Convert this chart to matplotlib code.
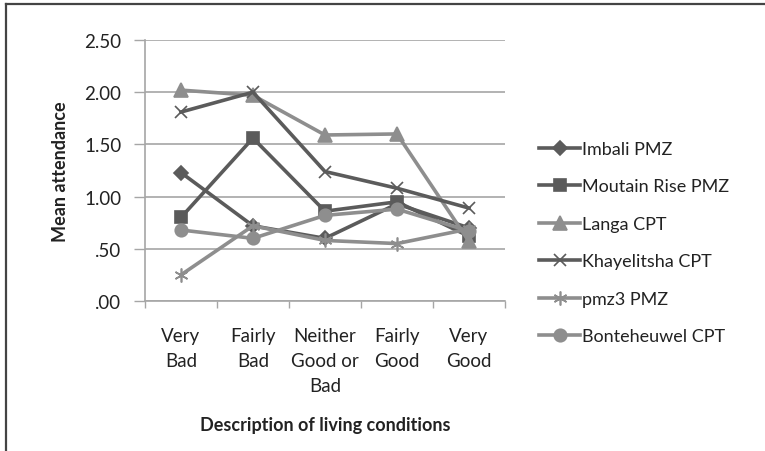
import matplotlib.pyplot as plt
from matplotlib.lines import Line2D

# Mean attendance by description of living conditions
conditions = ['Very\nBad', 'Fairly\nBad', 'Neither\nGood or\nBad', 'Fairly\nGood', 'Very\nGood']
imbali = [1.23, 0.72, 0.60, 0.93, 0.70]
mountain_rise = [0.80, 1.56, 0.86, 0.95, 0.62]
langa = [2.02, 1.97, 1.59, 1.60, 0.57]
khayelitsha = [1.81, 2.00, 1.24, 1.08, 0.89]
pmz3 = [0.25, 0.72, 0.58, 0.55, 0.69]
bonteheuwel = [0.68, 0.60, 0.82, 0.88, 0.67]

dark = '#5b5b5b'
light = '#8e8e8e'

plt.rcParams['font.family'] = ['Lato', 'DejaVu Sans']

fig = plt.figure(figsize=(7.65, 4.52), dpi=100)
ax = fig.add_axes([0.1895, 0.3319, 0.4706, 0.5774])

x = list(range(len(conditions)))
series = [
    ('Imbali PMZ', imbali, dark, 'D', 7),
    ('Moutain Rise PMZ', mountain_rise, dark, 's', 8.5),
    ('Langa CPT', langa, light, '^', 9.5),
    ('Khayelitsha CPT', khayelitsha, dark, 'x', 9),
    ('pmz3 PMZ', pmz3, light, (6, 2, 0), 10),
    ('Bonteheuwel CPT', bonteheuwel, light, 'o', 9),
]
for name, vals, col, mk, ms in series:
    ax.plot(x, vals, color=col, lw=2.6, marker=mk, markersize=ms,
            markeredgewidth=1.2, markeredgecolor=col, markerfacecolor=col,
            label=name, zorder=3)

ax.set_xlim(-0.5, len(conditions) - 0.5)
ax.set_ylim(0, 2.5)
ax.set_yticks([0, 0.5, 1.0, 1.5, 2.0, 2.5])
ax.set_yticklabels(['.00', '.50', '1.00', '1.50', '2.00', '2.50'])
ax.set_xticks(x)
ax.set_xticklabels(conditions, linespacing=1.55)
ax.set_xticks([i - 0.5 for i in range(len(conditions) + 1)], minor=True)
ax.tick_params(axis='x', which='major', length=0, pad=19, labelsize=13.5, colors='#222222')
ax.tick_params(axis='x', which='minor', length=5, width=1, color='#a6a6a6')
ax.tick_params(axis='y', length=8, width=1, color='#a6a6a6', labelsize=13.5,
               labelcolor='#222222', pad=9)

ax.grid(axis='y', color='#a6a6a6', lw=1.2, zorder=0)
ax.set_axisbelow(True)
for side in ['top', 'right']:
    ax.spines[side].set_visible(False)
for side in ['left', 'bottom']:
    ax.spines[side].set_color('#a6a6a6')
    ax.spines[side].set_linewidth(1.2)

ax.set_ylabel('Mean attendance', fontsize=13, fontweight='bold', color='#222222', labelpad=11)
ax.set_xlabel('Description of living conditions', fontsize=13, fontweight='bold',
              color='#222222', labelpad=16)

fig.legend(loc='upper left', bbox_to_anchor=(0.683, 0.722), frameon=False,
           fontsize=13, handlelength=2.3, handletextpad=0.12, labelspacing=1.19,
           labelcolor='#222222')

# outer frame on the left and top edges
fig.add_artist(Line2D([0.0072, 0.0072], [0, 0.988], color='#444444', lw=1.6))
fig.add_artist(Line2D([0.0072, 1], [0.988, 0.988], color='#444444', lw=1.6))

fig.savefig('out.png', dpi=100)
